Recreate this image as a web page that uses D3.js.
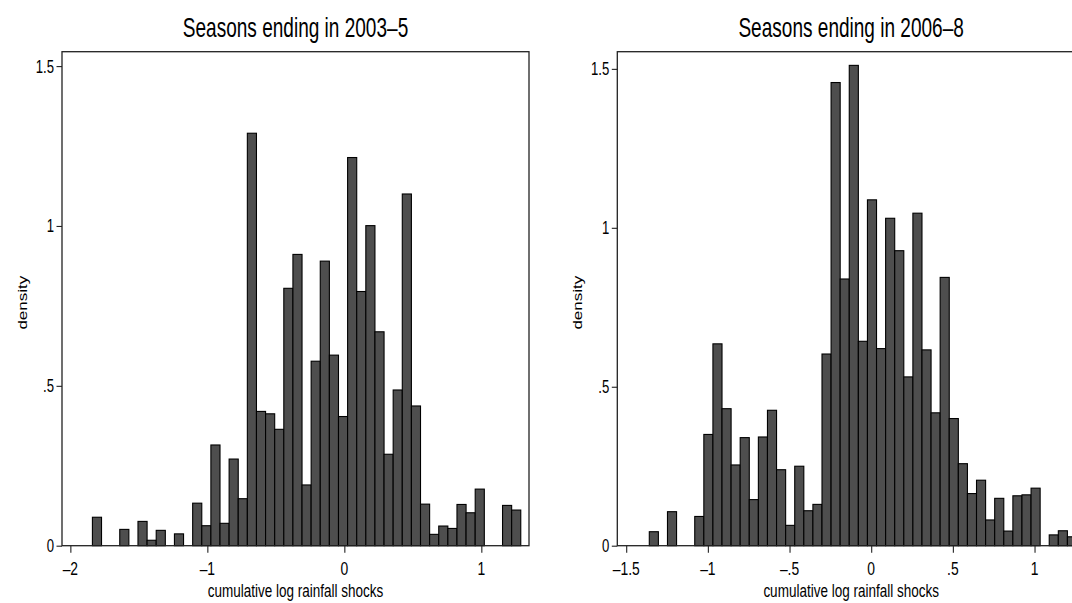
<!DOCTYPE html>
<html>
<head>
<meta charset="utf-8">
<script src="https://cdn.jsdelivr.net/npm/d3@7"></script>
<style>
  html, body { margin: 0; padding: 0; background: #fff; }
  svg { display: block; }
  text { font-family: "Liberation Sans", Arial, Helvetica, sans-serif; fill: #000; }
</style>
</head>
<body>
<svg id="chart" width="1072" height="603"></svg>
<script>
// Histogram of cumulative log rainfall shocks, two season groups.

// Seasons ending in 2003-5: equal-width bins, density per bin
const leftTitle = "Seasons ending in 2003–5";
const leftBinStart = -1.839;
const leftBinWidth = 0.06653;
const leftDensity = [
  0.089, 0, 0, 0.051, 0, 0.076, 0.017, 0.048, 0, 0.037,
  0, 0.133, 0.0625, 0.315, 0.07, 0.271, 0.147, 1.29, 0.42, 0.4125,
  0.364, 0.805, 0.911, 0.19, 0.577, 0.89, 0.596, 0.404, 1.214, 0.795,
  1.001, 0.669, 0.286, 0.487, 1.1, 0.437, 0.130, 0.0355, 0.0615, 0.054,
  0.129, 0.103, 0.177, 0, 0, 0.126, 0.1115
];
const leftXTicks = [-2, -1, 0, 1];
const leftXTickLabels = ["–2", "–1", "0", "1"];

// Seasons ending in 2006-8
const rightTitle = "Seasons ending in 2006–8";
const rightBinStart = -1.3586;
const rightBinWidth = 0.05565;
const rightDensity = [
  0.044, 0, 0.107, 0, 0, 0.092, 0.35, 0.635, 0.431, 0.254,
  0.34, 0.145, 0.342, 0.426, 0.239, 0.064, 0.25, 0.11, 0.130, 0.603,
  1.457, 0.839, 1.511, 0.643, 1.088, 0.62, 1.03, 0.928, 0.531, 1.046,
  0.616, 0.418, 0.844, 0.40, 0.258, 0.164, 0.206, 0.081, 0.149, 0.046,
  0.157, 0.160, 0.181, 0, 0.034, 0.047, 0.028
];
const rightXTicks = [-1.5, -1, -0.5, 0, 0.5, 1];
const rightXTickLabels = ["–1.5", "–1", "–.5", "0", ".5", "1"];

const yTicks = [0, 0.5, 1, 1.5];
const yTickLabels = ["0", ".5", "1", "1.5"];
const xAxisTitle = "cumulative log rainfall shocks";
const yAxisTitle = "density";

const svg = d3.select("#chart");
svg.append("rect").attr("width", 1072).attr("height", 603).attr("fill", "#fff");

// narrow, tall lettering
const SQUEEZE = 0.73;

function hText(g, x, y, str, size, anchor, squeeze) {
  return g.append("text")
    .attr("transform", `translate(${x},${y}) scale(${squeeze || SQUEEZE},1)`)
    .attr("text-anchor", anchor)
    .style("font-size", size + "px")
    .text(str);
}

function drawPanel(cfg) {
  const { box, xDomain, yDomain, binStart, binWidth, density, xTicks, xTickLabels, title } = cfg;
  const g = svg.append("g");
  const x = d3.scaleLinear().domain(xDomain).range([box.left, box.right]);
  const y = d3.scaleLinear().domain(yDomain).range([box.bottom, box.top]);

  const bins = density.map((d, i) => ({
    x0: binStart + i * binWidth,
    x1: binStart + (i + 1) * binWidth,
    d
  })).filter(b => b.d > 0);

  g.append("defs").append("clipPath").attr("id", cfg.id + "-clip")
    .append("rect")
    .attr("x", box.left).attr("y", box.top - 2)
    .attr("width", box.right - box.left).attr("height", box.bottom - box.top + 4);

  g.append("g").attr("clip-path", `url(#${cfg.id}-clip)`)
    .selectAll("rect").data(bins).join("rect")
    .attr("x", b => x(b.x0))
    .attr("y", b => y(b.d))
    .attr("width", b => x(b.x1) - x(b.x0))
    .attr("height", b => y(0) - y(b.d))
    .attr("fill", "#4e4e4e")
    .attr("stroke", "#000")
    .attr("stroke-width", 1.1);

  // plot region frame
  g.append("rect")
    .attr("x", box.left).attr("y", box.top)
    .attr("width", box.right - box.left).attr("height", box.bottom - box.top)
    .attr("fill", "none").attr("stroke", "#222").attr("stroke-width", 1.3);

  // y axis ticks and labels
  const yAxis = d3.axisLeft(y).tickValues(yTicks).tickSize(5.5).tickFormat("");
  const ya = g.append("g").attr("transform", `translate(${box.left},0)`).call(yAxis);
  ya.select(".domain").remove();
  ya.selectAll(".tick line").attr("stroke", "#222").attr("stroke-width", 1.1);
  yTicks.forEach((v, i) => {
    hText(g, box.left - 8, y(v) + 6.5, yTickLabels[i], 18, "end");
  });

  // x axis ticks and labels
  const xAxis = d3.axisBottom(x).tickValues(xTicks).tickSize(7).tickFormat("");
  const xa = g.append("g").attr("transform", `translate(0,${box.bottom})`).call(xAxis);
  xa.select(".domain").remove();
  xa.selectAll(".tick line").attr("stroke", "#222").attr("stroke-width", 1.1);
  xTicks.forEach((v, i) => {
    hText(g, x(v), 575, xTickLabels[i], 19, "middle");
  });

  const cx = (box.left + box.right) / 2;
  hText(g, cx, 597, xAxisTitle, 18.5, "middle");
  hText(g, cx, 37, title, 28, "middle", 0.68);

  g.append("text")
    .attr("transform", `translate(${box.left - 40},${(box.top + box.bottom) / 2 + 4}) rotate(-90) scale(1,0.76)`)
    .attr("text-anchor", "middle")
    .attr("dy", "0.35em")
    .style("font-size", "17px")
    .text(yAxisTitle);
}

drawPanel({
  id: "p1",
  box: { left: 62, right: 529, top: 51.7, bottom: 545.7 },
  xDomain: [-2.061, 1.348],
  yDomain: [0, 1.545],
  binStart: leftBinStart, binWidth: leftBinWidth, density: leftDensity,
  xTicks: leftXTicks, xTickLabels: leftXTickLabels, title: leftTitle
});

drawPanel({
  id: "p2",
  box: { left: 617.3, right: 1085, top: 51.7, bottom: 545.7 },
  xDomain: [-1.5545, 1.309],
  yDomain: [0, 1.554],
  binStart: rightBinStart, binWidth: rightBinWidth, density: rightDensity,
  xTicks: rightXTicks, xTickLabels: rightXTickLabels, title: rightTitle
});
</script>
</body>
</html>
